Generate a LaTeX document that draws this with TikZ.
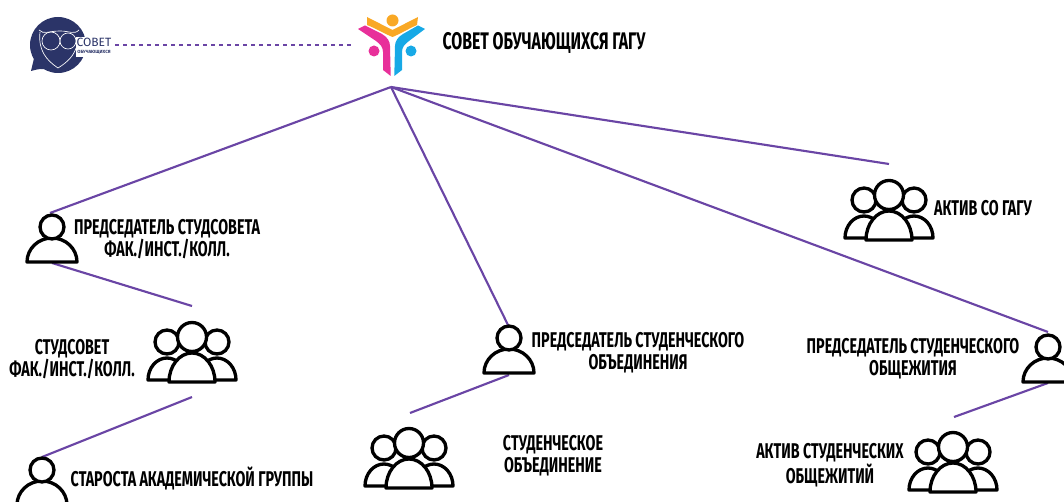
\documentclass[tikz,border=0pt]{standalone}
\usepackage{fontspec}
\setmainfont{Fira Sans}
\usepackage{tikz}
\usetikzlibrary{positioning}
\definecolor{linkviolet}{HTML}{6A45A5}
\definecolor{owlnavy}{HTML}{2B3468}
\definecolor{logoorange}{HTML}{F9A825}
\definecolor{logopink}{HTML}{E8309A}
\definecolor{logoblue}{HTML}{17A9E6}
\tikzset{
    x=0.75pt, y=-0.75pt,
    link/.style={draw=linkviolet, line width=1.6pt},
    lab/.style={font=\bfseries\fontsize{16}{16.5}\selectfont, align=center, xscale=0.67, text=black, inner sep=0pt},
    icon/.style={draw=black, line width=2.5pt, fill=white, line join=round},
    pics/person/.style={code={
        \draw[icon] (-25,0) arc[start angle=180, end angle=360, x radius=25, y radius=24] -- cycle;
        \draw[icon] (0,-35) circle[radius=12];
    }},
    pics/crowd/.style={code={
        \draw[icon] (-44,-2) arc[start angle=180, end angle=360, x radius=19, y radius=22] -- cycle;
        \draw[icon] (6,-2) arc[start angle=180, end angle=360, x radius=19, y radius=22] -- cycle;
        \draw[icon] (-25,-40) circle[radius=12];
        \draw[icon] (25,-40) circle[radius=12];
        \draw[icon] (0,-45) circle[radius=14.5];
        \draw[icon] (-23,0) arc[start angle=180, end angle=360, x radius=23, y radius=29] -- cycle;
    }},
}
\begin{document}
\begin{tikzpicture}
    \useasboundingbox (0,0) rectangle (1064,502);
    \clip (0,0) rectangle (1064,502);

    % end points of the links
    \coordinate (hub) at (391,87);
    \coordinate (left) at (50,213);
    \coordinate (leftbase) at (52,263);
    \coordinate (leftend) at (192,306);
    \coordinate (crowdbase) at (192,397);
    \coordinate (headman) at (42,457);
    \coordinate (middle) at (508,325);
    \coordinate (middlebase) at (509,375);
    \coordinate (middleend) at (410,413);
    \coordinate (right) at (1048,332);
    \coordinate (rightbase) at (1048,383);
    \coordinate (rightend) at (954,417);
    \coordinate (asset) at (889,164);
    \coordinate (owlend) at (115,45);
    \coordinate (logoend) at (352,45);

    \draw[link] (hub) -- (left);
    \draw[link] (hub) -- (middle);
    \draw[link] (hub) -- (right);
    \draw[link] (hub) -- (asset);
    \draw[link] (leftbase) -- (leftend);
    \draw[link] (crowdbase) -- (headman);
    \draw[link] (middlebase) -- (middleend);
    \draw[link] (rightbase) -- (rightend);
    \draw[link, dashed] (owlend) -- (logoend);

    % owl logo
    \fill[owlnavy] (58,45) circle[radius=28];
    \fill[owlnavy] (31,71) .. controls (38,69) and (43,68) .. (48,70) -- (36,50) -- cycle;
    \draw[white, line width=0.5pt] (39,30) .. controls (44,35) and (48,31) .. (60,31) .. controls (70,31) and (74,35) .. (79,30);
    \draw[white, line width=0.5pt] (40,32) .. controls (38,50) and (46,60) .. (58,68) .. controls (68,62) and (74,55) .. (76,48);
    \draw[white, line width=0.5pt] (51,41) circle[radius=9];
    \draw[white, line width=0.5pt] (68,41) circle[radius=8];
    \fill[white] (76,37) rectangle (113,57);
    \node[inner sep=0pt, font=\fontsize{9}{9}\selectfont, text=owlnavy] (owltitle) at (94,42) {СОВЕТ};
    \node[inner sep=0pt, font=\bfseries\fontsize{3.4}{3.4}\selectfont, text=owlnavy] (owlsub) at (94,52) {ОБУЧАЮЩИХСЯ};

    % main logo
    \fill[logoorange] (392.5,20.5) circle[radius=6];
    \fill[logoorange] (367,17) -- (392.5,30) -- (418,17) -- (417,25) .. controls (408,29) and (400,34) .. (392.5,37) .. controls (385,34) and (377,29) .. (367,25) -- cycle;
    \fill[logopink] (358,29) -- (365,25.5) -- (382,34) .. controls (387,37) and (390,41) .. (390,46) -- (390.7,76) -- (383,70) -- (383,52) .. controls (383,47) and (380,44) .. (376,41) -- cycle;
    \fill[logoblue] (425,29) -- (418,25.5) -- (403,34) .. controls (398,37) and (395,41) .. (395,46) -- (394.3,76) -- (402,70) -- (402,52) .. controls (402,47) and (405,44) .. (409,41) -- cycle;
    \fill[logopink] (374,51) circle[radius=5.5];
    \fill[logoblue] (411,51) circle[radius=5.5];
    \node[lab, font=\bfseries\fontsize{18}{19}\selectfont, xscale=0.66/0.67] (title) at (544,43) {СОВЕТ ОБУЧАЮЩИХСЯ ГАГУ};

    % people
    \pic at (52,262) {person};
    \node[lab] (leftlab) at (167,239) {ПРЕДСЕДАТЕЛЬ СТУДСОВЕТА\\ФАК./ИНСТ./КОЛЛ.};
    \pic at (192,382) {crowd};
    \node[lab] (crowdlab) at (72,359) {СТУДСОВЕТ\\ФАК./ИНСТ./КОЛЛ.};
    \pic at (42,505) {person};
    \node[lab] (headmanlab) at (192,478) {СТАРОСТА АКАДЕМИЧЕСКОЙ ГРУППЫ};
    \pic at (509,373) {person};
    \node[lab] (middlelab) at (638,353) {ПРЕДСЕДАТЕЛЬ СТУДЕНЧЕСКОГО\\ОБЪЕДИНЕНИЯ};
    \pic at (409,488) {crowd};
    \node[lab] (unionlab) at (553,456) {СТУДЕНЧЕСКОЕ\\ОБЪЕДИНЕНИЕ};
    \pic at (889,240) {crowd};
    \node[lab] (assetlab) at (983,208) {АКТИВ СО ГАГУ};
    \pic at (1048,382) {person};
    \node[lab] (rightlab) at (913,359) {ПРЕДСЕДАТЕЛЬ СТУДЕНЧЕСКОГО\\ОБЩЕЖИТИЯ};
    \pic at (953,492) {crowd};
    \node[lab] (dormlab) at (830,465) {АКТИВ СТУДЕНЧЕСКИХ\\ОБЩЕЖИТИЙ};
\end{tikzpicture}
\end{document}
